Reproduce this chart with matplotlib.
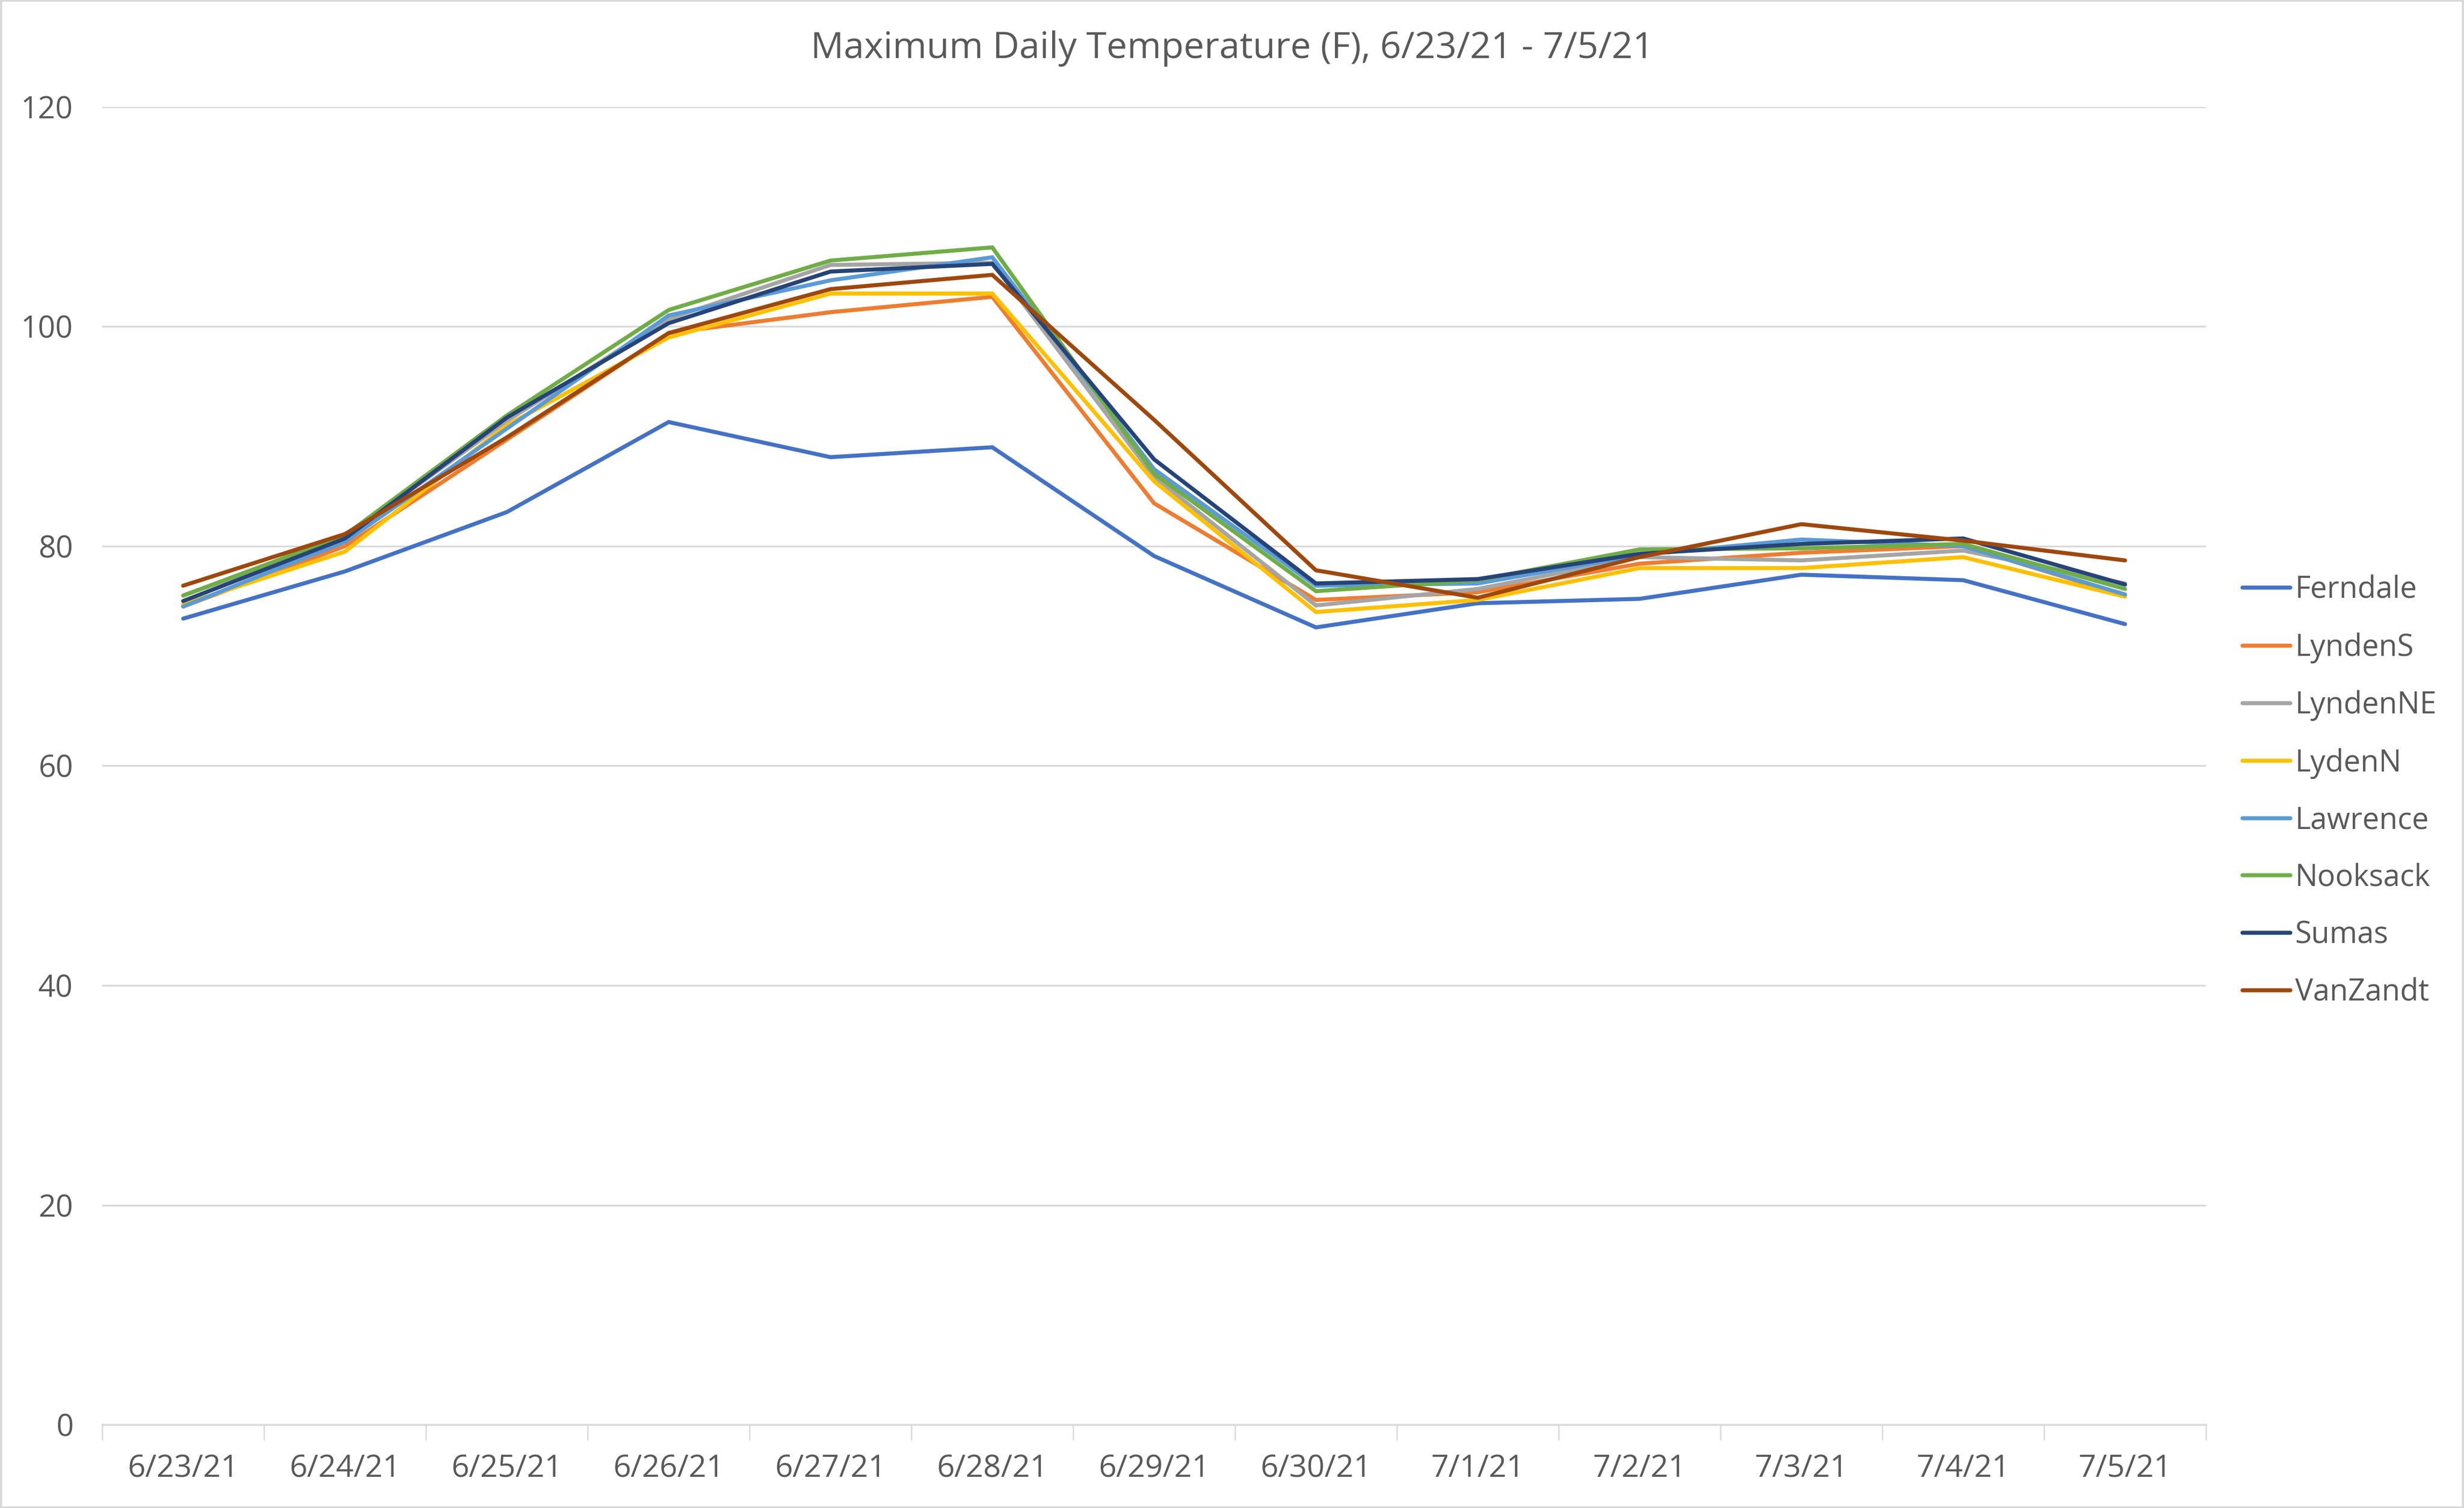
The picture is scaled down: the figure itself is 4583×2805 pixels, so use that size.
import matplotlib
matplotlib.use("Agg")
import matplotlib.pyplot as plt
import numpy as np

dates = ["6/23/21", "6/24/21", "6/25/21", "6/26/21", "6/27/21", "6/28/21", "6/29/21",
         "6/30/21", "7/1/21", "7/2/21", "7/3/21", "7/4/21", "7/5/21"]

ferndale  = [73.4, 77.7, 83.1, 91.3, 88.1, 89.0, 79.1, 72.6, 74.8, 75.2, 77.4, 76.9, 72.9]
lyndenS   = [74.5, 80.0, 89.7, 99.4, 101.3, 102.7, 83.9, 75.1, 75.8, 78.4, 79.4, 80.0, 75.5]
lyndenNE  = [75.5, 80.8, 91.4, 100.7, 105.6, 105.8, 86.3, 74.6, 76.1, 79.0, 78.7, 79.6, 76.6]
lydenN    = [74.7, 79.5, 91.0, 99.0, 103.0, 103.0, 85.9, 74.0, 75.1, 78.0, 78.0, 79.0, 75.4]
lawrence  = [74.5, 80.4, 90.7, 101.0, 104.2, 106.3, 87.0, 76.4, 76.6, 79.2, 80.6, 80.0, 75.6]
nooksack  = [75.5, 81.0, 91.9, 101.5, 106.0, 107.2, 86.6, 75.9, 76.9, 79.7, 79.8, 80.2, 76.1]
sumas     = [75.0, 80.7, 91.7, 100.3, 105.0, 105.7, 87.9, 76.6, 77.0, 79.3, 80.2, 80.7, 76.5]
vanZandt  = [76.4, 81.1, 89.9, 99.4, 103.4, 104.7, 91.5, 77.8, 75.3, 79.0, 82.0, 80.5, 78.7]

series_names = ["Ferndale", "LyndenS", "LyndenNE", "LydenN", "Lawrence", "Nooksack", "Sumas", "VanZandt"]
series_values = [ferndale, lyndenS, lyndenNE, lydenN, lawrence, nooksack, sumas, vanZandt]
colors = ["#4472C4", "#ED7D31", "#A5A5A5", "#FFC000", "#5B9BD5", "#70AD47", "#264478", "#9E480E"]

yticks = [0, 20, 40, 60, 80, 100, 120]

plt.rcParams['font.family'] = ['Open Sans', 'DejaVu Sans']
text_color = "#595959"
grid_color = "#D9D9D9"

W, H = 4583, 2805
dpi = 300
fig = plt.figure(figsize=(W / dpi, H / dpi), dpi=dpi)
ax = fig.add_axes([65 / 1566, 1 - 907 / 960, (1402 - 65) / 1566, (907 - 68) / 960])

x = np.arange(len(dates))
handles = []
for name, vals, c in zip(series_names, series_values, colors):
    h, = ax.plot(x, vals, color=c, lw=1.8, label=name, solid_capstyle='round',
                 solid_joinstyle='miter')
    handles.append(h)

ax.set_xlim(-0.5, len(dates) - 0.5)
ax.set_ylim(0, 120)
ax.set_yticks(yticks)
ax.set_yticklabels([str(v) for v in yticks])
ax.tick_params(axis='y', length=0, pad=13, labelsize=13.6, labelcolor=text_color)

ax.set_xticks(np.arange(-0.5, len(dates), 1.0))
ax.set_xticklabels([])
ax.set_xticks(x, minor=True)
ax.set_xticklabels(dates, minor=True)
ax.tick_params(axis='x', which='major', length=7, width=0.6, color=grid_color, direction='out')
ax.tick_params(axis='x', which='minor', length=0, pad=13, labelsize=13.8, labelcolor=text_color)

ax.grid(axis='y', color=grid_color, lw=0.8)
ax.set_axisbelow(True)
for s in ['top', 'right', 'left']:
    ax.spines[s].set_visible(False)
ax.spines['bottom'].set_color(grid_color)
ax.spines['bottom'].set_linewidth(0.8)

fig.text(0.5, 1 - 31 / 960, "Maximum Daily Temperature (F), 6/23/21 - 7/5/21",
         ha='center', va='center', fontsize=16.4, color=text_color)

leg = fig.legend(handles=handles, loc='center left', bbox_to_anchor=(1408 / 1566, 1 - 504 / 960),
                 frameon=False, fontsize=13.4, labelcolor=text_color, handlelength=1.6,
                 handletextpad=0.15, labelspacing=0.89)
for lh in leg.get_lines():
    lh.set_linewidth(1.8)
    lh.set_solid_capstyle('round')

border = plt.Rectangle((0.0005, 0.0005), 0.999, 0.999, transform=fig.transFigure,
                       fill=False, edgecolor=grid_color, lw=1.0)
fig.patches.append(border)

fig.savefig("out.png", dpi=dpi)
